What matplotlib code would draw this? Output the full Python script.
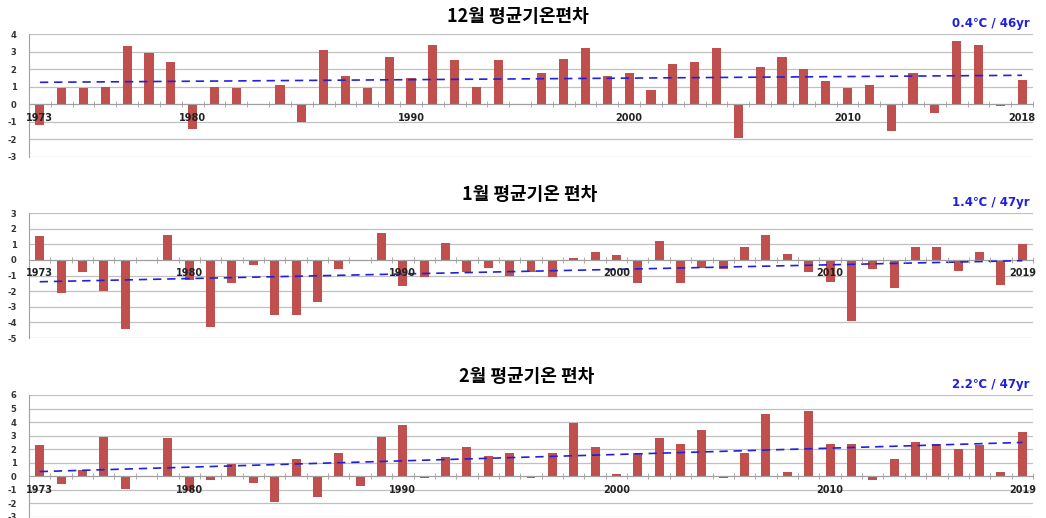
import matplotlib
matplotlib.use("Agg")
import matplotlib.pyplot as plt
from matplotlib.ticker import FixedLocator

plt.rcParams['font.family'] = ['DejaVu Sans', 'Noto Sans CJK KR']

# December anomalies, 1973-2018
years_dec = list(range(1973, 2019))
dec_vals = [-1.2, 0.9, 0.9, 1.0, 3.3, 2.9, 2.4, -1.4, 1.0, 0.9,
            0.0, 1.1, -1.0, 3.1, 1.6, 0.9, 2.7, 1.5, 3.4, 2.5,
            1.0, 2.5, 0.0, 1.8, 2.6, 3.2, 1.6, 1.8, 0.8, 2.3,
            2.4, 3.2, -1.9, 2.1, 2.7, 2.0, 1.3, 0.9, 1.1, -1.5,
            1.8, -0.5, 3.6, 3.4, -0.1, 1.4]
dec_trend = [1.25, 1.65]

# January anomalies, 1973-2019
years_jf = list(range(1973, 2020))
jan_vals = [1.5, -2.1, -0.8, -2.0, -4.4, 0.0, 1.6, -1.3, -4.3, -1.5,
            -0.3, -3.5, -3.5, -2.7, -0.6, -0.1, 1.7, -1.7, -1.1, 1.1,
            -0.8, -0.5, -1.0, -0.8, -1.1, 0.1, 0.5, 0.3, -1.5, 1.2,
            -1.5, -0.5, -0.6, 0.8, 1.6, 0.4, -0.8, -1.4, -3.9, -0.6,
            -1.8, 0.8, 0.8, -0.7, 0.5, -1.6, 1.0]
jan_trend = [-1.4, -0.05]

# February anomalies, 1973-2019
feb_vals = [2.3, -0.6, 0.5, 2.9, -0.9, 0.0, 2.8, -1.1, -0.3, 0.9,
            -0.5, -1.9, 1.3, -1.5, 1.7, -0.7, 2.9, 3.8, -0.1, 1.4,
            2.2, 1.5, 1.7, -0.15, 1.7, 3.9, 2.2, 0.2, 1.7, 2.8,
            2.4, 3.4, -0.15, 1.7, 4.6, 0.3, 4.8, 2.4, 2.4, -0.3,
            1.3, 2.5, 2.4, 2.0, 2.3, 0.3, 3.3]
feb_trend = [0.35, 2.5]

W, H = 1046, 518
fig = plt.figure(figsize=(W / 100, H / 100), dpi=100)

BAR = '#C0504D'
GRID = '#C0C0C0'
AXC = '#A0A0A0'


def panel(rect, years, vals, trend, ylim, title, title_xy, rate):
    ax = fig.add_axes(rect)
    ax.bar(years, vals, width=0.42, color=BAR, zorder=2)
    ax.plot([years[0], years[-1]], trend, color='#2020E0', lw=1.2,
            ls=(0, (5, 3.5)), zorder=3)
    ax.set_xlim(years[0] - 0.5, years[-1] + 0.5)
    ax.set_ylim(*ylim)
    ax.set_yticks(range(ylim[0], ylim[1] + 1))
    ax.set_yticklabels([str(v) for v in range(ylim[0], ylim[1] + 1)],
                       fontsize=6, fontweight='bold', color='#333333')
    ax.yaxis.grid(True, color=GRID, lw=0.9)
    ax.set_axisbelow(True)
    ax.xaxis.set_zorder(4)
    ax.tick_params(axis='y', length=0, pad=9)

    ax.spines['top'].set_visible(False)
    ax.spines['right'].set_visible(False)
    ax.spines['left'].set_color(AXC)
    ax.spines['bottom'].set_position(('data', 0))
    ax.spines['bottom'].set_color(AXC)

    xt = [1973, 1980, 1990, 2000, 2010, years[-1]]
    ax.set_xticks(xt)
    ax.set_xticklabels([str(x) for x in xt], fontsize=7, fontweight='bold',
                       color='#222222')
    ax.xaxis.set_minor_locator(FixedLocator([y - 0.5 for y in years] + [years[-1] + 0.5]))
    ax.tick_params(axis='x', which='major', length=0, pad=6)
    ax.tick_params(axis='x', which='minor', length=4, direction='inout', color=AXC)

    fig.text(title_xy[0] / W, 1 - title_xy[1] / H, title, ha='center', va='center',
             fontsize=13, fontweight='bold', family=['Noto Sans CJK KR', 'DejaVu Sans'])
    ax.text(0.997, 1.035, rate, transform=ax.transAxes, ha='right', va='bottom',
            fontsize=8.5, fontweight='bold', color='#1F1FE0')
    return ax


panel([29 / W, 1 - 157 / H, 1004 / W, 123 / H], years_dec, dec_vals, dec_trend,
      (-3, 4), '12월 평균기온편차', (518, 17), '0.4℃ / 46yr')
panel([29 / W, 1 - 338 / H, 1004 / W, 125 / H], years_jf, jan_vals, jan_trend,
      (-5, 3), '1월 평균기온 편차', (530, 195), '1.4℃ / 47yr')
panel([29 / W, 1 - 517 / H, 1004 / W, 122 / H], years_jf, feb_vals, feb_trend,
      (-3, 6), '2월 평균기온 편차', (527, 377), '2.2℃ / 47yr')

fig.savefig('out.png', dpi=100)
